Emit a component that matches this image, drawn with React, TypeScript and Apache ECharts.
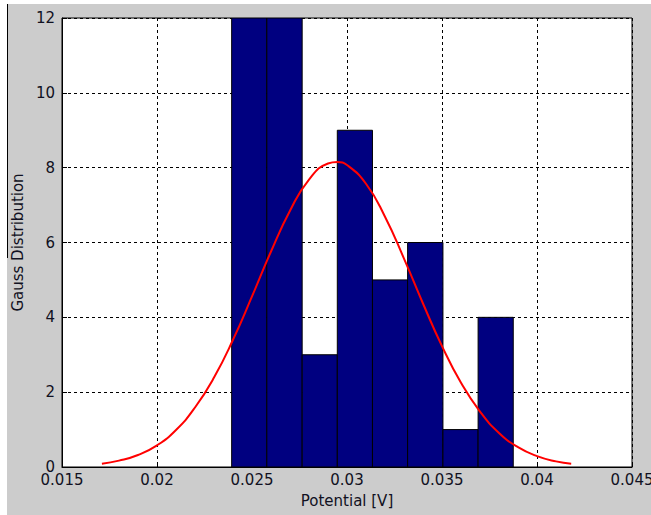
import React, { useEffect, useRef } from "react";
import * as echarts from "echarts";

// Histogram bin edges (Potential [V]) and counts
const binStarts = [0.02393, 0.02578, 0.02764, 0.02949, 0.03134, 0.03319, 0.03505, 0.0369];
const binEnds = [0.02578, 0.02764, 0.02949, 0.03134, 0.03319, 0.03505, 0.0369, 0.03875];
const binCounts = [12, 12, 3, 9, 5, 6, 1, 4];

// Gauss fit curve
const curveX = [
  0.0171, 0.018, 0.019, 0.02, 0.021, 0.022, 0.023, 0.024, 0.025, 0.026, 0.027, 0.028, 0.029, 0.0295,
  0.03, 0.031, 0.032, 0.033, 0.034, 0.035, 0.036, 0.037, 0.038, 0.039, 0.04, 0.041, 0.0418,
];
const curveY = [
  0.09, 0.17, 0.32, 0.58, 0.99, 1.59, 2.39, 3.4, 4.56, 5.76, 6.85, 7.68, 8.11, 8.15,
  8.07, 7.57, 6.69, 5.57, 4.37, 3.23, 2.25, 1.48, 0.91, 0.53, 0.29, 0.15, 0.09,
];

const xTickLabels = ["0.015", "0.02", "0.025", "0.03", "0.035", "0.04", "0.045"];
const yTickLabels = ["0", "2", "4", "6", "8", "10", "12"];

const FONT = "'DejaVu Sans', Verdana, sans-serif";
const TEXT_COLOR = "#111122";

export default function App() {
  const ref = useRef<HTMLDivElement>(null);
  useEffect(() => {
    if (!ref.current) return;
    const chart = echarts.init(ref.current, null, { renderer: "svg" });
    const barData = binStarts.map((s, i) => [s, binEnds[i], binCounts[i]]);
    const lineData = curveX.map((x, i) => [x, curveY[i]]);
    chart.setOption({
      animation: false,
      backgroundColor: "#cccccc",
      graphic: [
        { type: "rect", left: 0, top: 0, shape: { x: 0, y: 0, width: 651, height: 4 }, style: { fill: "#ffffff" }, silent: true },
        { type: "rect", left: 0, top: 0, shape: { x: 0, y: 0, width: 7, height: 515 }, style: { fill: "#ffffff" }, silent: true },
        { type: "line", shape: { x1: 7.5, y1: 4, x2: 7.5, y2: 258 }, style: { stroke: "#000", lineWidth: 1 }, silent: true },
      ],
      grid: {
        left: 62,
        top: 18,
        right: 19,
        bottom: 48,
        containLabel: false,
        outerBoundsMode: "none",
        show: true,
        backgroundColor: "#ffffff",
        borderColor: "#000",
        borderWidth: 1,
      },
      xAxis: {
        type: "value",
        min: 0.015,
        max: 0.045,
        interval: 0.005,
        name: "Potential [V]",
        nameLocation: "middle",
        nameGap: 26,
        nameTextStyle: { fontSize: 15, color: TEXT_COLOR, fontFamily: FONT },
        axisLine: { show: true, lineStyle: { color: "#000", width: 1 } },
        axisTick: { show: true, inside: true, length: 5, lineStyle: { color: "#000" } },
        axisLabel: {
          margin: 5,
          fontSize: 15,
          color: TEXT_COLOR,
          fontFamily: FONT,
          formatter: (v: number) => {
            const idx = Math.round((v - 0.015) / 0.005);
            return xTickLabels[idx] ?? "";
          },
        },
        splitLine: { show: true, lineStyle: { color: "#000", type: [3, 3], width: 1 } },
      },
      yAxis: {
        type: "value",
        min: 0,
        max: 12,
        interval: 2,
        name: "Gauss Distribution",
        nameLocation: "middle",
        nameRotate: 90,
        nameGap: 37,
        nameTextStyle: { fontSize: 15, color: TEXT_COLOR, fontFamily: FONT },
        axisLine: { show: true, lineStyle: { color: "#000", width: 1 } },
        axisTick: { show: true, inside: true, length: 5, lineStyle: { color: "#000" } },
        axisLabel: {
          margin: 7,
          fontSize: 15,
          color: TEXT_COLOR,
          fontFamily: FONT,
          formatter: (v: number) => yTickLabels[Math.round(v / 2)] ?? "",
        },
        splitLine: { show: true, lineStyle: { color: "#000", type: [3, 3], width: 1 } },
      },
      series: [
        {
          type: "custom",
          data: barData,
          encode: { x: [0, 1], y: 2 },
          clip: true,
          renderItem: (params: any, api: any) => {
            const p0 = api.coord([api.value(0), 0]);
            const p1 = api.coord([api.value(1), api.value(2)]);
            const rect = { x: p0[0], y: p1[1], width: p1[0] - p0[0], height: p0[1] - p1[1] };
            const cs = params.coordSys;
            const shape = echarts.graphic.clipRectByRect(rect, {
              x: cs.x,
              y: cs.y,
              width: cs.width,
              height: cs.height,
            });
            return {
              type: "rect",
              shape,
              style: { fill: "#000080", stroke: "#000", lineWidth: 1 },
            };
          },
        },
        {
          type: "line",
          data: lineData,
          smooth: true,
          showSymbol: false,
          symbol: "none",
          lineStyle: { color: "#ff0000", width: 2 },
          z: 5,
        },
      ],
    });
    return () => chart.dispose();
  }, []);
  return (
    <div
      ref={ref}
      style={{ position: "absolute", left: 0, top: 0, width: 651, height: 515 }}
    />
  );
}
